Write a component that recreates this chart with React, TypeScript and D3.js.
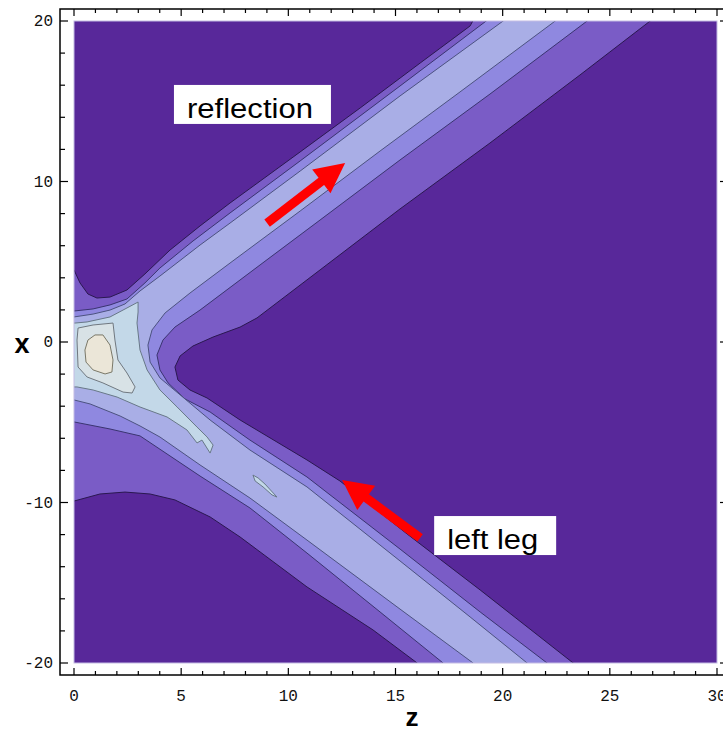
import React from 'react';
import * as d3 from 'd3';

// contour regions, [z, x] pairs; each region holds every point at or above its level
const level1Region: [number, number][] = [
  [-0.51, 4.61], [0, 4.49], [0.28, 3.68], [0.65, 2.99], [1.07, 2.74], [1.68, 2.8], [2.47, 3.24], [3.31, 4.24],
  [4.48, 5.73], [5.88, 7.23], [7.28, 8.66], [10.55, 11.84], [13.35, 14.58], [16.15, 17.38], [18.48, 19.69], [18.81, 20.5],
  [27.39, 20.5], [26.88, 20], [23.61, 16.64], [19.41, 12.4], [15.21, 8.29], [11.48, 4.49], [8.54, 1.5], [7.75, 0.93],
  [6.49, 0.31], [5.55, -0.25], [4.95, -0.87], [4.71, -1.56],
  [4.85, -2.37], [5.41, -2.99], [6.21, -3.49], [7.75, -4.86], [10.87, -7.35], [12.41, -8.66], [15.54, -11.96],
  [18.95, -15.45], [23.29, -20], [23.75, -20.5],
  [15.54, -20.5], [16.01, -20], [13.95, -17.94], [10.87, -15.26], [7.75, -12.15], [6.35, -10.9], [4.71, -9.84],
  [3.55, -9.47], [2.38, -9.35], [1.21, -9.47], [0, -9.91], [-0.51, -9.97],
];

const level2Region: [number, number][] = [
  [-0.51, 1.93], [0, 1.93], [0.89, 2.06], [1.68, 2.31], [2.47, 2.68], [3.31, 3.68], [4.01, 4.61], [5.55, 6.29],
  [7.28, 8.04], [10.55, 11.28], [15.21, 15.95], [19.23, 20], [19.74, 20.5],
  [24.41, 20.5], [23.94, 20], [19.41, 15.45], [15.21, 11.34], [11.48, 7.6], [8.68, 4.8], [5.88, 1.99], [4.71, 0.93],
  [4.15, 0.12], [3.87, -0.81], [4.01, -1.74], [4.39, -2.55], [5.18, -3.55],
  [6.35, -4.36], [8.21, -6.11], [10.87, -8.41], [15.21, -12.9], [18.95, -16.82], [22.07, -20], [22.54, -20.5],
  [16.75, -20.5], [17.22, -20], [14.28, -16.82], [10.87, -13.15], [8.21, -10.34], [5.88, -8.35], [3.08, -5.85],
  [1.68, -5.42], [0, -4.98], [-0.51, -4.98],
];

const level3Region: [number, number][] = [
  [-0.51, 1.56], [0, 1.56], [0.89, 1.74], [1.68, 1.99], [2.38, 2.37], [3.08, 3.18], [4.01, 4.11], [5.88, 6.04],
  [7.28, 7.41], [10.55, 10.65], [15.21, 15.33], [20.02, 20], [20.53, 20.5],
  [22.96, 20.5], [22.45, 20], [18.01, 15.58], [14.28, 11.9], [10.55, 8.16], [7.28, 4.92], [5.41, 3.05], [4.25, 1.81],
  [3.64, 0.75], [3.45, -0.19], [3.55, -1.25], [4.01, -2.24],
  [6.35, -4.86], [8.21, -6.73], [10.87, -9.03], [15.21, -13.64], [18.48, -17.13], [21.14, -20], [21.61, -20.5],
  [18.15, -20.5], [18.62, -20], [15.21, -16.64], [10.87, -12.34], [8.21, -9.72], [5.88, -7.66], [4.01, -5.92],
  [3.08, -5.23], [2.15, -4.61], [0.75, -3.86], [0, -3.61], [-0.51, -3.61],
];

const level4Region: [number, number][] = [
  [-0.51, 1.18], [0.05, 1.18], [0.61, 1.25], [1.68, 1.56], [2.47, 2.12], [2.99, 2.49], [2.99, 1.87], [2.94, 1.18],
  [3.08, -0.5], [3.41, -1.74], [4.01, -2.99], [4.81, -4.05], [5.74, -5.3], [6.21, -5.92], [6.49, -6.42],
  [6.35, -6.92], [5.97, -6.11], [5.74, -6.29], [5.27, -5.48], [4.34, -4.67], [3.08, -4.05], [2.01, -3.43],
  [0.89, -2.99], [0.14, -2.8], [-0.51, -2.8],
];

const level4Island: [number, number][] = [
  [8.35, -8.29], [8.59, -8.47], [8.91, -8.85], [9.47, -9.66], [9.24, -9.53], [8.82, -9.03], [8.45, -8.66],
];

const level5Region: [number, number][] = [
  [0.19, 0.87], [0.89, 1.06], [1.82, 1.18], [1.91, 0.12], [2.05, -1.12], [2.47, -1.93], [2.85, -2.8],
  [2.71, -3.18], [2.29, -3.12], [1.35, -2.55], [0.61, -2.18], [0.19, -1.56], [0.14, 0.12],
];

const level6Region: [number, number][] = [
  [0.65, 0.12], [0.98, 0.44], [1.35, 0.44], [1.68, -0.19], [1.82, -1.12], [1.77, -1.87], [1.45, -1.99],
  [0.89, -1.74], [0.56, -1.25], [0.51, -0.5],
];

const levelColors = ['#58289a', '#7a5cc6', '#8f88e0', '#a9aee6', '#c3d8e8', '#d8e2e6', '#ebe6d8'];
const lineColors = ['#2a1850', '#2a1850', '#3a3470', '#4c5280', '#687888', '#707880', '#7a7868'];

const zTickLabels = [0, 5, 10, 15, 20, 25, 30];
const xTickLabels = [-20, -10, 0, 10, 20];

// annotations: text start at baseline, arrows tail -> tip
const notes = [
  { text: 'reflection', z: 5.27, x: 13.96, width: 126 },
  { text: 'left leg', z: 17.41, x: -12.9, width: 91 },
];
const arrows = [
  { from: [9.01, 7.41], to: [12.65, 11.15] },
  { from: [16.15, -12.21], to: [12.51, -8.6] },
];

const W = 723;
const H = 730;
const frame = { left: 60, top: 9, right: 728, bottom: 675 };

export default function App() {
  const xs = d3.scaleLinear().domain([0, 30]).range([74, 717]);
  const ys = d3.scaleLinear().domain([-20, 20]).range([663, 21]);
  const line = d3.line<[number, number]>().x(d => xs(d[0])).y(d => ys(d[1]));
  const path = (pts: [number, number][]) => line(pts) + 'Z';

  const regions: { pts: [number, number][]; level: number }[] = [
    { pts: level1Region, level: 1 },
    { pts: level2Region, level: 2 },
    { pts: level3Region, level: 3 },
    { pts: level4Region, level: 4 },
    { pts: level4Island, level: 4 },
    { pts: level5Region, level: 5 },
    { pts: level6Region, level: 6 },
  ];

  const zMinor = d3.range(0, 31, 1);
  const xMinor = d3.range(-20, 21, 2);
  const font = "'Liberation Mono', monospace";
  const sans = "'Liberation Sans', Arial, sans-serif";

  return (
    <svg width={W} height={H} style={{ position: 'absolute', left: 0, top: 0, background: '#fff' }}>
      <defs>
        <clipPath id="plotClip">
          <rect x={xs(0)} y={ys(20)} width={xs(30) - xs(0)} height={ys(-20) - ys(20)} />
        </clipPath>
      </defs>
      <rect x={xs(0)} y={ys(20)} width={xs(30) - xs(0)} height={ys(-20) - ys(20)} fill={levelColors[0]} />
      <g clipPath="url(#plotClip)">
        {regions.map((r, i) => (
          <path key={i} d={path(r.pts)} fill={levelColors[r.level]} stroke={lineColors[r.level]}
            strokeWidth={1} strokeLinejoin="round" />
        ))}
      </g>
      <rect x={xs(0)} y={ys(20)} width={xs(30) - xs(0)} height={ys(-20) - ys(20)} fill="none"
        stroke="#c4bce4" strokeWidth={1} />

      {/* frame */}
      <rect x={frame.left} y={frame.top} width={frame.right - frame.left} height={frame.bottom - frame.top}
        fill="none" stroke="#000" strokeWidth={1.5} />
      {zMinor.map(t => {
        const len = t % 5 === 0 ? 7 : 4;
        return (
          <g key={'z' + t} stroke="#000" strokeWidth={1.2}>
            <line x1={xs(t)} x2={xs(t)} y1={frame.bottom} y2={frame.bottom - len} />
            <line x1={xs(t)} x2={xs(t)} y1={frame.top} y2={frame.top + len} />
          </g>
        );
      })}
      {xMinor.map(t => {
        const len = t % 10 === 0 ? 8 : 5;
        return (
          <g key={'x' + t} stroke="#000" strokeWidth={1.2}>
            <line x1={frame.left} x2={frame.left + len} y1={ys(t)} y2={ys(t)} />
            <line x1={frame.right} x2={frame.right - len} y1={ys(t)} y2={ys(t)} />
          </g>
        );
      })}
      {zTickLabels.map(t => (
        <text key={'zl' + t} x={xs(t)} y={701} textAnchor="middle" fontFamily={font} fontSize={16} fill="#111">
          {t}
        </text>
      ))}
      {xTickLabels.map(t => (
        <text key={'xl' + t} x={53} y={ys(t) + 5} textAnchor="end" fontFamily={font} fontSize={16} fill="#111">
          {t}
        </text>
      ))}
      <text x={22} y={353} textAnchor="middle" fontFamily={sans} fontWeight="bold" fontSize={27}>x</text>
      <text x={412} y={726} textAnchor="middle" fontFamily={sans} fontWeight="bold" fontSize={26}>z</text>

      {/* annotations */}
      {notes.map(n => (
        <g key={n.text}>
          <rect x={xs(n.z) - 13} y={ys(n.x) - 33} width={n.width + 31} height={39} fill="#fff" />
          <text x={xs(n.z)} y={ys(n.x)} fontFamily={sans} fontSize={27} fill="#000"
            textLength={n.width} lengthAdjust="spacingAndGlyphs">{n.text}</text>
        </g>
      ))}
      {arrows.map((a, i) => {
        const x0 = xs(a.from[0]), y0 = ys(a.from[1]);
        const x1 = xs(a.to[0]), y1 = ys(a.to[1]);
        const len = Math.hypot(x1 - x0, y1 - y0);
        const ux = (x1 - x0) / len, uy = (y1 - y0) / len;
        const headLen = 30, halfW = 15;
        const bx = x1 - ux * headLen, by = y1 - uy * headLen;
        const head = `M${x1},${y1}L${bx - uy * halfW},${by + ux * halfW}L${bx + uy * halfW},${by - ux * halfW}Z`;
        return (
          <g key={i}>
            <line x1={x0} y1={y0} x2={bx + ux * 2} y2={by + uy * 2} stroke="#ff0000" strokeWidth={9} />
            <path d={head} fill="#ff0000" />
          </g>
        );
      })}
    </svg>
  );
}
